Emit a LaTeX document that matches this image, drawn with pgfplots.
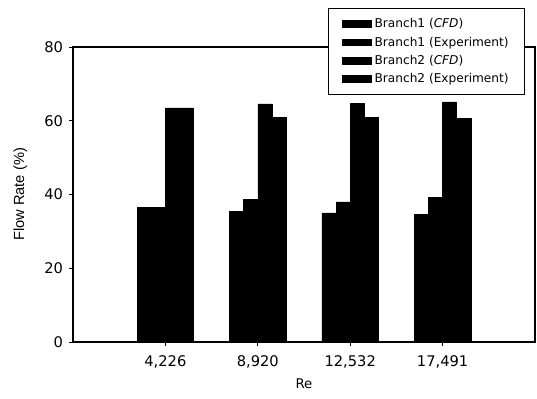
\documentclass[border=0pt]{standalone}
\usepackage{pgfplots}
\pgfplotsset{compat=1.18}
\usepackage{fontspec}
\setmainfont{DejaVu Sans}
\newfontfamily\arialf{Liberation Sans}
\begin{document}
\begin{tikzpicture}[x=1pt,y=1pt]
\begin{axis}[
  name=ax,
  scale only axis,
  width=346.5pt, height=221.25pt,
  xmin=0, xmax=5, ymin=0, ymax=80,
  ybar=0pt, bar width=0.153,
  xtick={1,2,3,4},
  xticklabels={{4,226},{8,920},{12,532},{17,491}},
  ytick={0,20,40,60,80},
  tick align=outside, xtick pos=lower, ytick pos=left,
  major tick length=3pt,
  /pgf/number format/assume math mode=true,
  tick label style={font=\fontsize{11}{13}\selectfont},
  xticklabel style={yshift=-4pt},
  yticklabel style={xshift=-1pt},
  xlabel={Re}, xlabel style={font=\fontsize{10}{12}\selectfont, yshift=-1pt},
  ylabel={\arialf Flow Rate (\%)}, ylabel style={font=\fontsize{11}{13}\selectfont, yshift=6pt},
  axis line style={line width=0.8pt},
  every tick/.style={black, line width=0.7pt},
  legend style={at={(1,1)}, anchor=north east, xshift=-7.5pt, yshift=29.25pt,
    draw=black, fill=white, line width=0.6pt,
    font=\fontsize{9.1}{11}\selectfont, row sep=1.4pt, inner xsep=10pt, inner ysep=5.5pt},
  legend cell align=left,
  legend image code/.code={\fill[black] (0pt,-2.6pt) rectangle (22pt,2.6pt);},
]
\addplot[fill=black, draw=black] coordinates {(1,36.6) (2,35.4) (3,35.0) (4,34.7)};
\addplot[fill=black, draw=black] coordinates {(1,36.6) (2,38.7) (3,38.0) (4,39.2)};
\addplot[fill=black, draw=black] coordinates {(1,63.5) (2,64.6) (3,64.8) (4,65.1)};
\addplot[fill=black, draw=black] coordinates {(1,63.5) (2,61.0) (3,60.9) (4,60.6)};
\legend{Branch1 ({\itshape CFD}), Branch1 (Experiment), Branch2 ({\itshape CFD}), Branch2 (Experiment)}
\end{axis}
\useasboundingbox ([xshift=-54.75pt,yshift=-42.75pt]ax.south west) rectangle ([xshift=1.5pt,yshift=35.25pt]ax.north east);
\end{tikzpicture}
\end{document}
